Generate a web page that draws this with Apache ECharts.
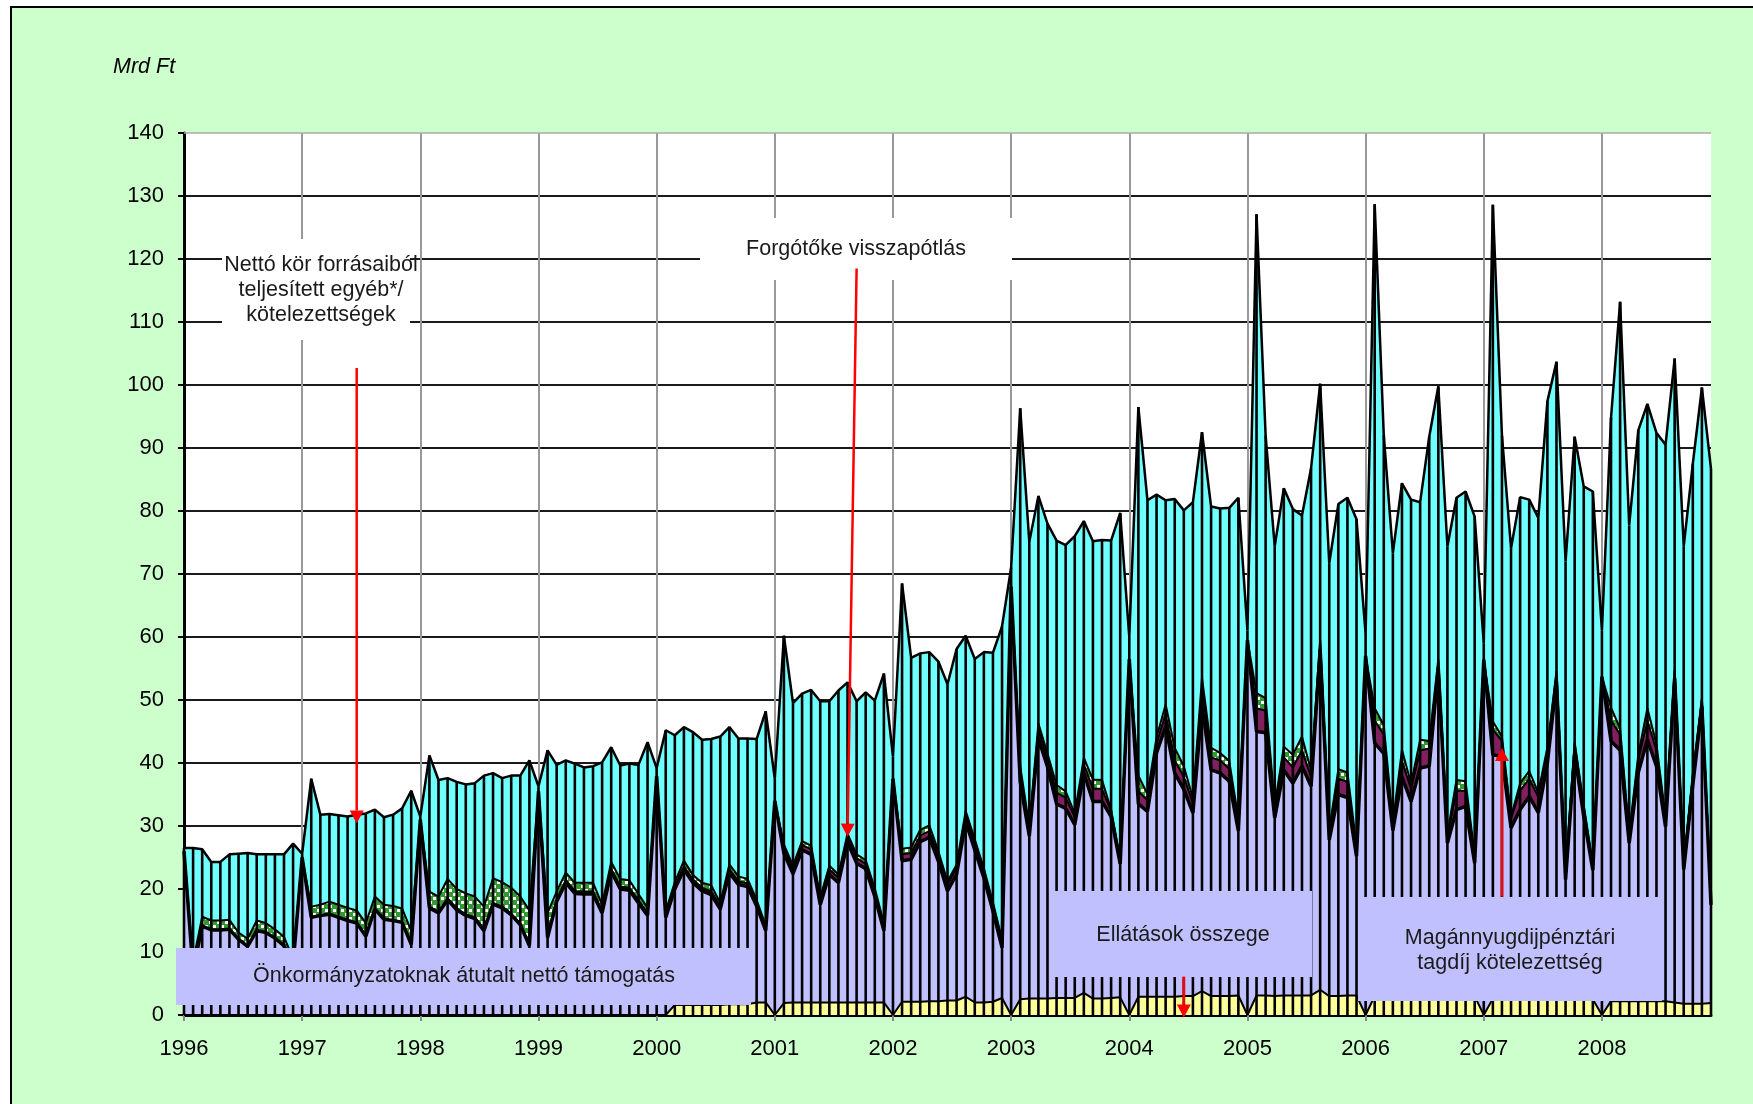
<!DOCTYPE html>
<html>
<head>
<meta charset="utf-8">
<title>Mrd Ft</title>
<script src="https://cdn.jsdelivr.net/npm/echarts@6/dist/echarts.min.js"></script>
<style>
    html, body { margin: 0; padding: 0; background: #fff; }
    #chart { width: 1753px; height: 1104px; }
</style>
</head>
<body>
<div id="chart"></div>
<script>
// 13 pont evente (az evszam a 0. pont)
var evek = [1996, 1997, 1998, 1999, 2000, 2001, 2002, 2003, 2004, 2005, 2006, 2007, 2008];

// teljes magassag (cian teteje)
var osszesen = [
    26.5, 26.5, 26.3, 24.3, 24.3, 25.5, 25.6, 25.7, 25.5, 25.5, 25.5, 25.5, 27.2,
    25.6, 37.5, 31.8, 31.9, 31.7, 31.5, 31.8, 32.0, 32.6, 31.4, 31.8, 32.8, 35.6,
    31.5, 41.2, 37.3, 37.6, 37.0, 36.6, 36.8, 38.0, 38.4, 37.6, 38.0, 38.0, 40.4,
    36.3, 42.0, 39.7, 40.4, 39.9, 39.3, 39.5, 40.1, 42.5, 39.6, 39.9, 39.7, 43.3,
    39.2, 45.2, 44.4, 45.7, 44.9, 43.7, 43.8, 44.2, 45.7, 43.9, 43.9, 43.8, 48.2,
    37.5, 60.2, 49.5, 51.0, 51.6, 49.8, 49.8, 51.5, 52.8, 49.8, 51.2, 49.9, 54.2,
    41.0, 68.5, 56.7, 57.4, 57.6, 56.1, 52.5, 58.1, 60.2, 56.5, 57.6, 57.5, 61.7,
    71.0, 96.3, 75.1, 82.4, 78.0, 75.3, 74.6, 76.0, 78.4, 75.2, 75.4, 75.3, 79.7,
    60.0, 96.5, 81.7, 82.6, 81.7, 81.9, 80.1, 81.4, 92.5, 80.7, 80.4, 80.5, 82.1,
    61.0, 127.1, 92.0, 74.4, 83.6, 80.3, 79.3, 86.8, 100.2, 71.7, 81.1, 82.1, 78.7,
    60.5, 128.7, 92.0, 73.3, 84.4, 81.8, 81.4, 91.8, 99.8, 74.4, 82.1, 83.1, 79.1,
    59.0, 128.6, 92.0, 74.1, 82.2, 81.8, 78.9, 97.4, 103.7, 72.0, 91.8, 83.9, 83.1,
    61.0, 94.8, 113.2, 77.7, 92.8, 97.0, 92.4, 90.5, 104.2, 74.4, 87.5, 99.6, 86.7
];

// ellatasok (levendula teteje)
var ellatasok = [
    26.0, 7.0, 14.1, 13.5, 13.5, 13.6, 12.0, 10.9, 13.4, 13.1, 12.2, 11.0, 8.0,
    25.0, 15.5, 15.8, 16.0, 15.5, 15.0, 14.6, 12.5, 16.8, 15.2, 15.0, 14.7, 11.2,
    31.0, 17.0, 16.2, 18.3, 16.7, 15.8, 15.3, 13.4, 17.6, 17.0, 15.9, 14.3, 11.0,
    35.5, 12.3, 18.0, 21.0, 19.3, 19.2, 19.2, 16.2, 22.8, 20.0, 19.8, 17.8, 15.8,
    37.9, 15.5, 20.0, 23.1, 21.0, 19.7, 19.1, 16.8, 22.6, 20.7, 20.4, 17.3, 13.4,
    34.0, 25.7, 22.4, 26.2, 25.5, 17.5, 22.3, 21.0, 27.4, 24.1, 23.2, 18.8, 13.4,
    37.5, 24.5, 24.7, 27.5, 28.2, 24.4, 19.7, 22.3, 30.7, 26.2, 21.8, 16.5, 10.7,
    68.0, 37.0, 28.4, 43.9, 39.4, 33.5, 32.8, 30.2, 38.4, 33.9, 33.9, 31.5, 24.0,
    56.5, 33.5, 32.3, 41.6, 45.8, 38.4, 35.8, 32.1, 49.0, 38.9, 38.4, 37.1, 29.2,
    59.5, 45.0, 44.8, 31.3, 38.9, 36.8, 39.5, 36.3, 58.0, 27.8, 35.0, 34.5, 25.2,
    57.0, 43.2, 41.5, 29.3, 37.8, 33.9, 39.2, 39.5, 55.0, 27.3, 32.6, 33.1, 24.1,
    56.4, 41.3, 41.0, 29.7, 32.6, 34.7, 32.1, 40.0, 53.0, 21.5, 41.5, 31.5, 23.0,
    53.7, 43.5, 42.0, 27.3, 38.5, 43.7, 39.5, 29.9, 53.5, 23.1, 36.5, 49.0, 17.5
];

// maganyugdijpenztari tagdij (lila savvastagsag)
var tagdij = [
    0, 0, 0, 0, 0, 0, 0, 0, 0, 0, 0, 0, 0,
    0, 0, 0, 0, 0, 0, 0, 0, 0, 0, 0, 0, 0,
    0, 0.2, 0.2, 0.2, 0.2, 0.2, 0.2, 0.2, 0.2, 0.2, 0.2, 0.2, 0.2,
    0, 0.4, 0.4, 0.4, 0.4, 0.4, 0.4, 0.4, 0.4, 0.4, 0.4, 0.4, 0.4,
    0, 0.5, 0.5, 0.5, 0.5, 0.5, 0.5, 0.5, 0.5, 0.5, 0.5, 0.5, 0.5,
    0, 0.8, 0.8, 0.8, 0.8, 0.8, 0.8, 0.8, 0.8, 0.8, 0.8, 0.8, 0.8,
    0, 1.0, 1.0, 1.0, 1.0, 1.0, 1.0, 1.0, 1.0, 1.0, 1.0, 1.0, 1.0,
    0, 1.5, 1.0, 1.4, 1.3, 1.8, 1.7, 1.2, 1.4, 2.0, 2.0, 0.8, 0.6,
    0, 2.0, 1.8, 1.5, 2.0, 2.0, 2.0, 1.5, 3.0, 2.0, 2.0, 2.0, 1.5,
    0, 3.7, 3.5, 1.5, 2.0, 2.5, 2.5, 1.5, 1.0, 1.2, 2.5, 2.5, 1.2,
    0, 3.5, 3.0, 1.0, 2.5, 2.0, 2.8, 2.8, 1.0, 1.0, 3.0, 2.5, 1.0,
    0, 4.0, 2.5, 1.5, 3.0, 2.8, 2.5, 2.0, 1.3, 0.8, 1.5, 1.5, 0.8,
    0, 3.3, 2.5, 1.2, 2.0, 3.0, 2.5, 1.2, 1.0, 0.8, 1.5, 1.0, 0.5
];

// netto kor egyeb kotelezettsegek (zold pottyos sav)
var egyeb = [
    0, 1.5, 1.5, 1.5, 1.5, 1.5, 1.1, 1.2, 1.6, 1.5, 1.4, 1.4, 1.0,
    0, 1.7, 1.7, 2.0, 2.0, 2.0, 2.0, 2.1, 2.0, 2.3, 2.3, 2.2, 2.2,
    0, 2.4, 2.4, 3.1, 3.1, 3.3, 3.3, 3.6, 3.9, 3.9, 4.1, 4.3, 5.4,
    0, 3.5, 1.2, 1.2, 1.3, 1.4, 1.4, 0.9, 1.1, 1.2, 1.2, 1.0, 0.8,
    0, 0.5, 0.6, 0.9, 0.7, 0.8, 1.0, 0.5, 0.8, 0.8, 0.7, 0.5, 0.3,
    0, 0.6, 0.5, 0.6, 0.6, 0.4, 0.6, 0.5, 0.6, 0.6, 0.6, 0.5, 0.4,
    0, 0.9, 0.9, 0.9, 0.9, 0.6, 0.5, 0.6, 0.7, 0.7, 0.5, 0.4, 0.3,
    0, 1.0, 0.6, 1.0, 0.8, 1.2, 1.0, 0.6, 1.0, 1.5, 1.4, 0.3, 0.2,
    0, 2.5, 1.0, 1.0, 1.5, 2.0, 1.7, 0.8, 1.5, 1.5, 1.2, 1.2, 0.5,
    0, 2.4, 2.0, 0.5, 1.7, 2.0, 2.2, 1.0, 0.5, 0.5, 1.5, 1.5, 0.5,
    0, 2.0, 1.5, 0.3, 1.8, 0.8, 1.7, 1.2, 0.5, 0.5, 1.7, 1.5, 0.3,
    0, 1.3, 0.7, 0.3, 1.2, 1.2, 0.7, 0.5, 0.3, 0.2, 0.3, 0.3, 0.2,
    0, 2.0, 1.0, 0.3, 0.8, 2.0, 1.0, 0.3, 0.3, 0.2, 0.3, 0.3, 0.2
];

// onkormanyzatoknak atutalt netto tamogatas (sarga)
var onkormanyzati = [
    0, 0, 0, 0, 0, 0, 0, 0, 0, 0, 0, 0, 0,
    0, 0, 0, 0, 0, 0, 0, 0, 0, 0, 0, 0, 0,
    0, 0, 0, 0, 0, 0, 0, 0, 0, 0, 0, 0, 0,
    0, 0, 0, 0, 0, 0, 0, 0, 0, 0, 0, 0, 0,
    0, 0, 1.6, 1.6, 1.6, 1.6, 1.6, 1.6, 1.7, 1.7, 1.7, 2.0, 2.0,
    0, 1.9, 2.0, 2.0, 2.0, 2.0, 2.0, 2.0, 2.0, 2.0, 2.0, 2.0, 2.0,
    0, 2.1, 2.1, 2.1, 2.2, 2.2, 2.3, 2.3, 2.9, 2.0, 2.0, 2.1, 2.7,
    0, 2.5, 2.6, 2.6, 2.6, 2.7, 2.7, 2.7, 3.5, 2.6, 2.6, 2.7, 2.8,
    0, 2.9, 2.9, 2.9, 2.9, 2.9, 3.0, 3.0, 3.8, 3.0, 3.0, 3.0, 3.1,
    0, 3.1, 3.1, 3.0, 3.1, 3.1, 3.1, 3.1, 4.0, 3.0, 3.0, 3.1, 3.1,
    0, 3.0, 3.0, 3.0, 3.0, 3.0, 3.0, 3.0, 3.6, 3.0, 3.0, 3.0, 3.0,
    0, 2.6, 2.6, 2.6, 2.6, 2.6, 2.6, 2.6, 3.0, 2.5, 2.5, 2.5, 2.5,
    0, 2.2, 2.2, 2.2, 2.2, 2.2, 2.2, 2.2, 2.0, 1.8, 1.8, 1.8, 1.9
];

var honapok = [];
evek.forEach(function (ev) {
    for (var k = 0; k < 13; k++) {
        honapok.push(k === 0 ? String(ev) : ev + '/' + k);
    }
});

// a savok teteje (egymasra rakva)
var tagdijTeto = ellatasok.map(function (v, i) { return +(v + tagdij[i]).toFixed(2); });
var egyebTeto = tagdijTeto.map(function (v, i) { return +(v + egyeb[i]).toFixed(2); });

var betu = '"Liberation Sans", Arial, sans-serif';

// zold-feher pottyos minta
var minta = document.createElement('canvas');
minta.width = 8;
minta.height = 8;
var mctx = minta.getContext('2d');
mctx.fillStyle = '#339933';
mctx.fillRect(0, 0, 8, 8);
mctx.fillStyle = '#ffffff';
mctx.fillRect(1, 1, 3, 3);
mctx.fillRect(5, 5, 3, 3);

function terulet(name, data, color, lw) {
    return {
        name: name,
        type: 'line',
        data: data,
        symbol: 'none',
        silent: true,
        z: 2,
        lineStyle: { color: '#000', width: lw },
        areaStyle: { color: color, opacity: 1 }
    };
}

var chart = echarts.init(document.getElementById('chart'));

var option = {
    animation: false,
    backgroundColor: '#CCFFCC',
    grid: {
        left: 184, right: 42, top: 133, bottom: 89,
        show: true, backgroundColor: '#ffffff', borderWidth: 0
    },
    xAxis: {
        type: 'category',
        data: honapok,
        boundaryGap: false,
        axisLine: { lineStyle: { color: '#000', width: 3 } },
        axisTick: { interval: 12, length: 6, lineStyle: { color: '#888', width: 2 } },
        axisLabel: {
            interval: 12, margin: 23, fontSize: 22, color: '#000', fontFamily: betu,
            formatter: function (v) { return v.split('/')[0]; }
        },
        splitLine: { show: true, interval: 12, lineStyle: { color: '#999', width: 2 } }
    },
    yAxis: {
        type: 'value',
        min: 0,
        max: 140,
        interval: 10,
        axisLine: { show: true, lineStyle: { color: '#000', width: 3 } },
        axisTick: { show: true, length: 6, lineStyle: { color: '#000', width: 2 } },
        axisLabel: { margin: 20, fontSize: 22, color: '#000', fontFamily: betu },
        splitLine: { show: true, showMaxLine: false, lineStyle: { color: '#1a1a1a', width: 2 } }
    },
    series: [
        terulet('Forgótőke visszapótlás', osszesen, '#70FFFF', 2.5),
        terulet('Nettó kör forrásaiból teljesített egyéb kötelezettségek', egyebTeto, { image: minta, repeat: 'repeat' }, 2),
        terulet('Magánnyugdijpénztári tagdíj kötelezettség', tagdijTeto, '#80205F', 2),
        terulet('Ellátások összege', ellatasok, '#C0C0FF', 3.5),
        terulet('Önkormányzatoknak átutalt nettó támogatás', onkormanyzati, '#FFFF99', 2)
    ]
};
chart.setOption(option);

function pont(i, v) {
    return chart.convertToPixel({ xAxisIndex: 0, yAxisIndex: 0 }, [i, v]);
}

function nyil(i0, v0, i1, v1) {
    var a = pont(i0, v0), b = pont(i1, v1);
    var dx = b[0] - a[0], dy = b[1] - a[1];
    var len = Math.sqrt(dx * dx + dy * dy);
    var ux = dx / len, uy = dy / len;
    var head = 13, half = 7;
    var bx = b[0] - ux * head, by = b[1] - uy * head;
    return [
        { type: 'line', z: 120, silent: true,
          shape: { x1: a[0], y1: a[1], x2: bx, y2: by },
          style: { stroke: '#FF0000', lineWidth: 2.5 } },
        { type: 'polygon', z: 120, silent: true,
          shape: { points: [[b[0], b[1]], [bx - uy * half, by + ux * half], [bx + uy * half, by - ux * half]] },
          style: { fill: '#FF0000' } }
    ];
}

function doboz(x, y, w, h, fill) {
    return { type: 'rect', z: 100, silent: true, shape: { x: x, y: y, width: w, height: h }, style: { fill: fill } };
}

function felirat(x, y, txt) {
    return {
        type: 'text', z: 101, silent: true, x: x, y: y,
        style: {
            text: txt, font: '21.5px ' + betu, fill: '#1a1a1a',
            textAlign: 'center', textVerticalAlign: 'middle', lineHeight: 25
        }
    };
}

// ejtovonalak: fuggoleges vonal minden pontnal a tengelytol a teljes magassagig
var ejto = osszesen.map(function (v, i) {
    var a = pont(i, 0), b = pont(i, v);
    return { type: 'line', z: 60, silent: true,
             shape: { x1: a[0], y1: a[1], x2: b[0], y2: b[1] },
             style: { stroke: '#000', lineWidth: 2.6 } };
});

var teto = pont(0, 140)[1];
var bal = pont(0, 0)[0];
var jobb = pont(honapok.length - 1, 0)[0];

var elemek = [
    { type: 'rect', z: 0, silent: true, shape: { x: 0, y: 0, width: 11, height: 1104 }, style: { fill: '#ffffff' } },
    { type: 'rect', z: 0, silent: true, shape: { x: 0, y: 0, width: 1753, height: 7 }, style: { fill: '#ffffff' } },
    { type: 'rect', z: 0, silent: true, shape: { x: 11, y: 7, width: 1800, height: 1200 }, style: { fill: null, stroke: '#000', lineWidth: 2 } },
    { type: 'line', z: 50, silent: true, shape: { x1: bal, y1: teto, x2: jobb, y2: teto }, style: { stroke: '#aaaaaa', lineWidth: 1.5 } },
    {
        type: 'text', z: 101, silent: true, x: 113, y: 67,
        style: { text: 'Mrd Ft', font: 'italic 21.5px ' + betu, fill: '#000', textVerticalAlign: 'middle' }
    },

    doboz(222, 239, 188, 101, '#ffffff'),
    felirat(321, 290, 'Nettó kör forrásaiból\nteljesített egyéb*/\nkötelezettségek'),

    doboz(700, 218, 312, 62, '#ffffff'),
    felirat(856, 249, 'Forgótőke visszapótlás'),

    doboz(176, 948, 575, 57, '#C0C0FF'),
    felirat(464, 976, 'Önkormányzatoknak átutalt nettó támogatás'),

    doboz(1050, 891, 262, 86, '#C0C0FF'),
    felirat(1183, 935, 'Ellátások összege'),

    doboz(1358, 897, 304, 104, '#C0C0FF'),
    felirat(1510, 951, 'Magánnyugdijpénztári\ntagdíj kötelezettség')
];

elemek = ejto.concat(elemek)
    .concat(nyil(19, 102.7, 19, 30.4))
    .concat(nyil(74, 118.5, 73, 28.3))
    .concat(nyil(110, 6.1, 110, -0.4))
    .concat(nyil(145, 18.8, 145, 42.4));

chart.setOption({ graphic: { elements: elemek } });

window.onresize = function () {
    chart.resize();
};
</script>
</body>
</html>
